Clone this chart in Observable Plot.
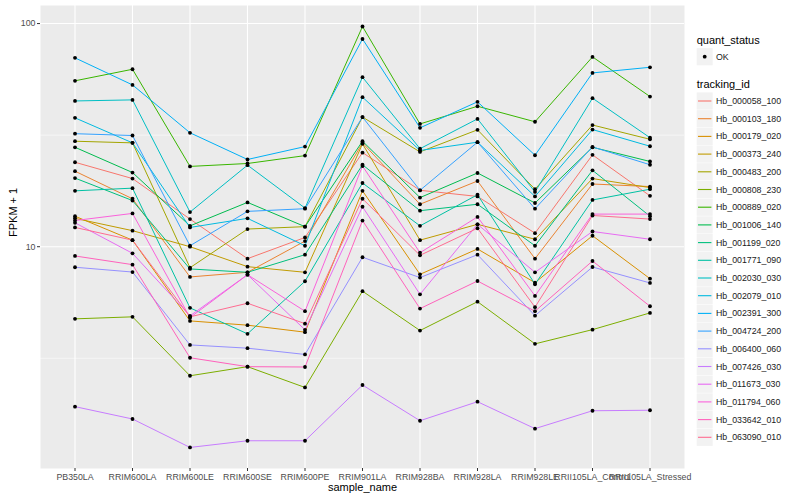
<!DOCTYPE html>
<html><head><meta charset="utf-8">
<script src="https://cdn.jsdelivr.net/npm/d3@7"></script>
<script src="https://cdn.jsdelivr.net/npm/@observablehq/plot@0.6"></script>
<style>
body{margin:0;background:#fff;font-family:"Liberation Sans",Arial,Helvetica,sans-serif;}
#wrap{position:relative;width:800px;height:500px;}
#chart{position:absolute;left:0;top:0;}
#legend{position:absolute;left:690px;top:0;}
</style></head><body>
<div id="wrap"><div id="chart"></div><div id="legend"></div></div>
<script>
const samples = ["PB350LA","RRIM600LA","RRIM600LE","RRIM600SE","RRIM600PE","RRIM901LA","RRIM928BA","RRIM928LA","RRIM928LE","RRII105LA_Control","RRII105LA_Stressed"];
const trackingIds = ["Hb_000058_100","Hb_000103_180","Hb_000179_020","Hb_000373_240","Hb_000483_200","Hb_000808_230","Hb_000889_020","Hb_001006_140","Hb_001199_020","Hb_001771_090","Hb_002030_030","Hb_002079_010","Hb_002391_300","Hb_004724_200","Hb_006400_060","Hb_007426_030","Hb_011673_030","Hb_011794_060","Hb_033642_010","Hb_063090_010"];
const palette = ["#F8766D","#EA8331","#D89000","#C09B00","#A3A500","#7CAE00","#39B600","#00BB4E","#00BF7D","#00C1A3","#00BFC4","#00BAE0","#00B0F6","#35A2FF","#9590FF","#C77CFF","#E76BF3","#FA62DB","#FF62BC","#FF6C91"];
const yTicks = [10, 100];
const yMinor = [3.1623, 31.623];
const quantStatus = ["OK"];

// FPKM + 1 per sample (order of samples)
const hb000058_100 = [23.9, 20.2, 13.3, 8.84, 11.0, 26.4, 17.9, 16.8, 11.5, 25.8, 16.9];
const hb000103_180 = [21.8, 16.4, 7.32, 7.68, 10.6, 29.2, 15.5, 19.7, 8.84, 19.1, 18.6];
const hb000179_020 = [13.7, 10.7, 4.65, 4.45, 4.14, 17.8, 7.52, 9.77, 6.90, 11.2, 7.19];
const hb000373_240 = [13.4, 11.8, 10.0, 8.14, 7.68, 28.9, 10.7, 12.6, 10.8, 20.2, 18.4];
const hb000483_200 = [29.7, 29.2, 8.05, 12.0, 12.3, 38.1, 26.6, 33.4, 18.1, 35.1, 30.3];
const hb000808_230 = [4.75, 4.85, 2.64, 2.90, 2.34, 6.32, 4.21, 5.67, 3.67, 4.25, 5.05];
const hb000889_020 = [55.4, 62.4, 22.9, 23.6, 25.6, 97.0, 35.5, 42.6, 36.3, 70.9, 47.1];
const hb001006_140 = [27.9, 21.5, 12.4, 15.8, 12.3, 29.7, 16.6, 21.4, 15.7, 27.9, 24.1];
const hb001199_020 = [20.3, 16.1, 7.95, 7.68, 9.21, 23.3, 14.5, 15.5, 10.1, 22.0, 13.7];
const hb001771_090 = [17.8, 18.3, 5.32, 4.07, 7.00, 19.3, 12.4, 17.1, 6.79, 16.2, 18.1];
const hb002030_030 = [45.0, 45.5, 14.3, 23.2, 14.9, 57.5, 27.5, 37.4, 17.6, 46.3, 30.8];
const hb002079_010 = [37.8, 29.2, 12.2, 13.4, 10.1, 46.8, 27.0, 29.4, 16.8, 33.5, 28.2];
const hb002391_300 = [70.2, 53.1, 32.4, 24.6, 28.1, 85.3, 34.1, 44.6, 25.7, 60.1, 63.7];
const hb004724_200 = [32.1, 31.5, 10.1, 14.4, 14.8, 38.1, 17.9, 29.4, 14.8, 28.0, 23.3];
const hb006400_060 = [8.09, 7.70, 3.63, 3.51, 3.29, 8.97, 7.27, 9.21, 4.91, 8.11, 6.88];
const hb007426_030 = [1.92, 1.69, 1.26, 1.35, 1.35, 2.40, 1.66, 2.02, 1.53, 1.84, 1.85];
const hb011673_030 = [12.8, 9.34, 4.90, 7.49, 4.24, 15.1, 6.12, 12.6, 7.68, 11.7, 10.8];
const hb011794_060 = [13.1, 14.1, 4.81, 7.49, 5.14, 23.0, 9.40, 13.6, 6.02, 14.0, 14.0];
const hb033642_010 = [9.09, 8.31, 3.18, 2.90, 2.89, 13.1, 5.28, 7.02, 5.14, 8.63, 5.41];
const hb063090_010 = [12.2, 10.7, 4.85, 5.58, 4.52, 16.4, 9.15, 12.1, 5.36, 13.8, 13.3];

const seriesList = [hb000058_100, hb000103_180, hb000179_020, hb000373_240, hb000483_200, hb000808_230, hb000889_020, hb001006_140, hb001199_020, hb001771_090, hb002030_030, hb002079_010, hb002391_300, hb004724_200, hb006400_060, hb007426_030, hb011673_030, hb011794_060, hb033642_010, hb063090_010];

const rows = trackingIds.flatMap((id, i) => samples.map((s, j) => ({id, sample: s, value: seriesList[i][j], status: "OK"})));

const FONT = "Liberation Sans, Arial, Helvetica, sans-serif";

const chart = Plot.plot({
  width: 690, height: 500,
  marginLeft: 40, marginRight: 6, marginTop: 5, marginBottom: 32,
  style: {fontFamily: FONT, background: "white", overflow: "visible"},
  x: {type: "point", domain: samples, padding: 0.6, round: false, label: null},
  y: {type: "log", domain: [1.014, 120.5], label: null},
  color: {domain: trackingIds, range: palette},
  marks: [
    Plot.frame({fill: "#EBEBEB", stroke: null}),
    Plot.gridY({ticks: yMinor, stroke: "white", strokeOpacity: 1, strokeWidth: 0.55}),
    Plot.gridY({ticks: yTicks, stroke: "white", strokeOpacity: 1, strokeWidth: 1.1}),
    Plot.gridX({ticks: samples, stroke: "white", strokeOpacity: 1, strokeWidth: 1.1}),
    Plot.axisY({ticks: yTicks, tickFormat: d => String(d), tickSize: 3, tickPadding: 2, fontSize: 8.8, fill: "#4D4D4D", stroke: "#333333", label: null}),
    Plot.axisX({tickSize: 3, tickPadding: 2, fontSize: 8.8, fill: "#4D4D4D", stroke: "#333333", label: null}),
    Plot.line(rows, {x: "sample", y: "value", z: "id", stroke: "id", strokeWidth: 1}),
    Plot.dot(rows, {x: "sample", y: "value", r: 1.9, fill: "black", stroke: null}),
    Plot.text(["FPKM + 1"], {text: d => d, frameAnchor: "left", dx: -27, rotate: -90, fontSize: 11, fill: "black"}),
    Plot.text(["sample_name"], {text: d => d, frameAnchor: "bottom", dy: 22, fontSize: 11, fill: "black"})
  ]
});
document.getElementById("chart").appendChild(chart);

// Legend (ggplot style) on the right
const lg = d3.select("#legend").append("svg").attr("width", 110).attr("height", 500)
  .style("font-family", FONT);
lg.append("text").attr("x", 6.7).attr("y", 44).attr("font-size", 11).text("quant_status");
quantStatus.forEach((q, i) => {
  const cy = 56.7 + i * 17.7;
  lg.append("rect").attr("x", 6.7).attr("y", cy - 8.6).attr("width", 16).attr("height", 17.2).attr("fill", "#F2F2F2");
  lg.append("circle").attr("cx", 14.7).attr("cy", cy).attr("r", 1.9).attr("fill", "black");
  lg.append("text").attr("x", 26).attr("y", cy + 3).attr("font-size", 8.8).attr("fill", "#1A1A1A").text(q);
});
lg.append("text").attr("x", 6.7).attr("y", 88).attr("font-size", 11).text("tracking_id");
trackingIds.forEach((id, i) => {
  const cy = 101 + i * 17.7;
  lg.append("rect").attr("x", 6.7).attr("y", cy - 8.6).attr("width", 16).attr("height", 17.2).attr("fill", "#F2F2F2");
  lg.append("line").attr("x1", 8).attr("x2", 21.4).attr("y1", cy).attr("y2", cy).attr("stroke", palette[i]).attr("stroke-width", 1.1);
  lg.append("text").attr("x", 26).attr("y", cy + 3).attr("font-size", 8.8).attr("fill", "#1A1A1A").text(id);
});
</script>
</body></html>
